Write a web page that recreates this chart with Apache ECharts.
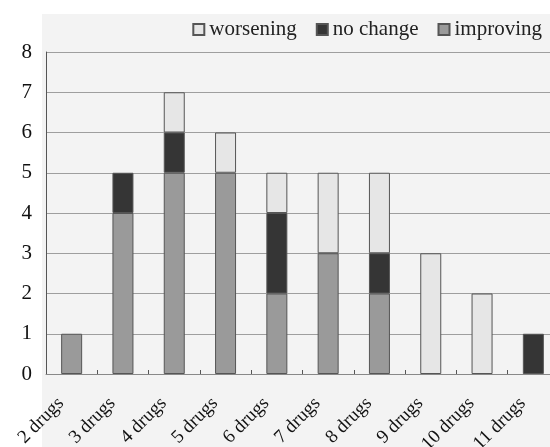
<!DOCTYPE html>
<html>
<head>
<meta charset="utf-8">
<script src="https://cdn.jsdelivr.net/npm/echarts@6/dist/echarts.min.js"></script>
<style>
  html, body { margin: 0; padding: 0; background: #ffffff; }
  #chart { width: 550px; height: 447px; }
</style>
</head>
<body>
<div id="chart"></div>
<script>
// Number of patients per regimen size, split by outcome
const categories = ['2 drugs', '3 drugs', '4 drugs', '5 drugs', '6 drugs',
                    '7 drugs', '8 drugs', '9 drugs', '10 drugs', '11 drugs'];
const improving = [1, 4, 5, 5, 2, 3, 2, 0, 0, 0];
const noChange  = [0, 1, 1, 0, 2, 0, 1, 0, 0, 1];
const worsening = [0, 0, 1, 1, 1, 2, 2, 3, 2, 0];
const yTicks = [0, 1, 2, 3, 4, 5, 6, 7, 8];

const serif = '"Liberation Serif", "DejaVu Serif", serif';
const edge = '#555555';

// empty segments are skipped so they leave no outline
const seg = arr => arr.map(v => (v === 0 ? '-' : v));

function barSeries(name, data, color) {
  return {
    name: name,
    type: 'bar',
    stack: 'total',
    barWidth: 21,
    data: seg(data),
    itemStyle: { color: color, borderColor: edge, borderWidth: 1 }
  };
}

const chart = echarts.init(document.getElementById('chart'), null, { renderer: 'canvas' });
chart.setOption({
  backgroundColor: '#ffffff',
  animation: false,
  graphic: [{
    type: 'rect',
    z: -10,
    shape: { x: 42, y: 14, width: 520, height: 440 },
    style: { fill: '#f3f3f3' }
  }],
  legend: {
    right: 3,
    top: 14,
    icon: 'rect',
    itemWidth: 11,
    itemHeight: 11,
    itemGap: 19,
    data: ['worsening', 'no change', 'improving'],
    textStyle: { fontFamily: serif, fontSize: 21, color: '#222' }
  },
  grid: { left: 46, top: 52, width: 513, height: 322, outerBoundsMode: 'none', containLabel: false },
  xAxis: {
    type: 'category',
    data: categories,
    axisLine: { lineStyle: { color: '#888', width: 1 } },
    axisTick: { show: true, inside: true, length: 4, alignWithLabel: false, lineStyle: { color: '#555' } },
    axisLabel: {
      rotate: 45,
      margin: 16,
      padding: [0, 15, 0, 0],
      fontFamily: serif,
      fontSize: 19,
      color: '#111',
      interval: 0
    }
  },
  yAxis: {
    type: 'value',
    min: yTicks[0],
    max: yTicks[yTicks.length - 1],
    interval: 1,
    axisLine: { show: true, lineStyle: { color: '#555', width: 1 } },
    axisTick: { show: false },
    axisLabel: { fontFamily: serif, fontSize: 21, color: '#111', margin: 14 },
    splitLine: { lineStyle: { color: '#9e9e9e', width: 1 } }
  },
  series: [
    barSeries('improving', improving, '#9a9a9a'),
    barSeries('no change', noChange, '#353535'),
    barSeries('worsening', worsening, '#e6e6e6')
  ]
});
</script>
</body>
</html>
